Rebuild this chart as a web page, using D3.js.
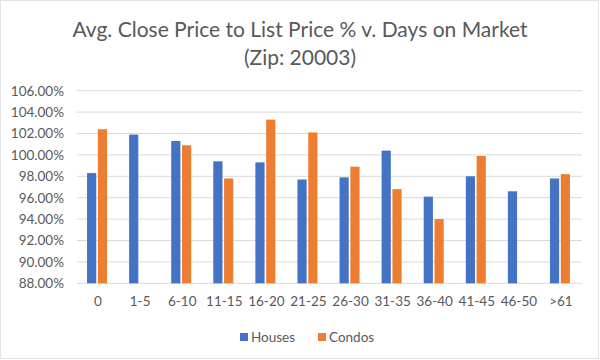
<!DOCTYPE html>
<html><head><meta charset="utf-8">
<script src="https://cdn.jsdelivr.net/npm/d3@7"></script>
<style>body{margin:0;background:#fff;} svg{display:block;font-family:Lato, "Open Sans", sans-serif;}</style>
</head><body>
<script>
const categories = ["0","1-5","6-10","11-15","16-20","21-25","26-30","31-35","36-40","41-45","46-50",">61"];
const houses = [98.3, 101.9, 101.3, 99.4, 99.3, 97.7, 97.9, 100.4, 96.1, 98.0, 96.6, 97.8];
const condos = [102.4, null, 100.9, 97.8, 103.3, 102.1, 98.9, 96.8, 94.0, 99.9, null, 98.2];
const yTicks = [88, 90, 92, 94, 96, 98, 100, 102, 104, 106];
const seriesNames = ["Houses", "Condos"];
const colors = ["#4472C4", "#ED7D31"];

const W = 600, H = 360;
const svg = d3.select("body").append("svg").attr("width", W).attr("height", H);
svg.append("rect").attr("x",0.5).attr("y",0.5).attr("width",W-2).attr("height",H-2)
  .attr("fill","#fff").attr("stroke","#e3e3e3");

const m = {left: 77, right: 582, top: 90.7, bottom: 283.3};
const x = d3.scaleBand().domain(categories).range([m.left, m.right]);
const y = d3.scaleLinear().domain([88, 106]).range([m.bottom, m.top]);
const xs = d3.scaleBand().domain(seriesNames).range([0, 20]).paddingInner(0.15);

// gridlines
svg.append("g").selectAll("line").data(yTicks).join("line")
  .attr("x1", m.left).attr("x2", m.right)
  .attr("y1", d => y(d)).attr("y2", d => y(d))
  .attr("stroke", "#d9d9d9").attr("stroke-width", 1);

// y axis labels
const yAxis = d3.axisLeft(y).tickValues(yTicks).tickSize(0).tickPadding(0)
  .tickFormat(d => d.toFixed(2) + "%");
const yg = svg.append("g").attr("transform", `translate(${m.left-13},0)`).call(yAxis);
yg.select(".domain").remove();
yg.selectAll("text").attr("fill","#595959").attr("font-size", 13.5).attr("font-family","Lato, sans-serif");

// bars
const data = categories.map((c,i) => ({c, vals:[houses[i], condos[i]]}));
const groups = svg.append("g").selectAll("g").data(data).join("g")
  .attr("transform", d => `translate(${x(d.c) + x.bandwidth()/2 - 11},0)`);
groups.selectAll("rect").data(d => d.vals.map((v,j) => ({v, s: seriesNames[j], j})).filter(e => e.v != null))
  .join("rect")
  .attr("x", e => xs(e.s)).attr("width", xs.bandwidth())
  .attr("y", e => y(e.v)).attr("height", e => y(88) - y(e.v))
  .attr("fill", e => colors[e.j]);

// x axis labels
const xAxis = d3.axisBottom(x).tickSize(0).tickPadding(0);
const xg = svg.append("g").attr("transform", `translate(0,${m.bottom + 13})`).call(xAxis);
xg.select(".domain").remove();
xg.selectAll("text").attr("fill","#595959").attr("font-size", 13.5).attr("font-family","Lato, sans-serif");

// title
const title = svg.append("text").attr("text-anchor","middle").attr("fill","#595959")
  .attr("font-size", 21);
title.append("tspan").attr("x", 300).attr("y", 37).text("Avg. Close Price to List Price % v. Days on Market");
title.append("tspan").attr("x", 300).attr("y", 65).text("(Zip: 20003)");

// legend
const legend = svg.append("g").attr("transform","translate(240,337)");
const lx = [0, 78];
seriesNames.forEach((n,i) => {
  const g = legend.append("g").attr("transform", `translate(${lx[i]},0)`);
  g.append("rect").attr("x",0).attr("y",-4).attr("width",8).attr("height",8).attr("fill",colors[i]);
  g.append("text").attr("x",11).attr("y",0).attr("dy","0.35em").attr("font-size",13.5)
    .attr("fill","#595959").text(n);
});
</script>
</body></html>
